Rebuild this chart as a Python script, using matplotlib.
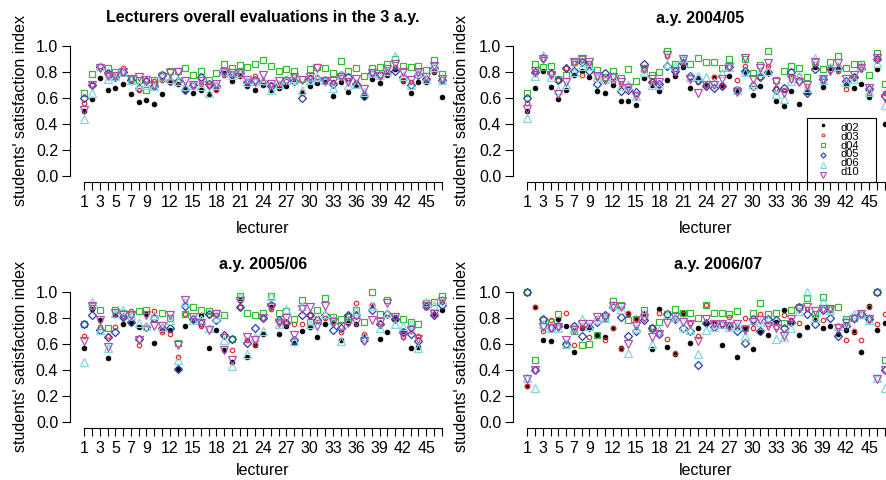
import matplotlib
matplotlib.use('Agg')
import matplotlib.pyplot as plt
from matplotlib.patches import Rectangle
import numpy as np

plt.rcParams['font.family'] = ['Liberation Sans', 'DejaVu Sans']

lecturers = np.arange(1, 48)
series = ['d02', 'd03', 'd04', 'd05', 'd06', 'd10']
shown_ticks = [1, 3, 5, 7, 9, 12, 15, 18, 21, 24, 27, 30, 33, 36, 39, 42, 45]

# overall 3 a.y.
tot_d02 = [0.50, 0.59, 0.755, 0.66, 0.675, 0.705, 0.63, 0.57, 0.585, 0.555, 0.635, 0.72, 0.71, 0.66, 0.64, 0.66,
           0.63, 0.67, 0.79, 0.73, 0.77, 0.69, 0.66, 0.70, 0.66, 0.68, 0.69, 0.75, 0.64, 0.69, 0.715, 0.72,
           0.615, 0.72, 0.65, 0.70, 0.61, 0.745, 0.715, 0.775, 0.82, 0.735, 0.64, 0.72, 0.725, 0.80, 0.61]
tot_d03 = [0.56, 0.70, 0.85, 0.78, 0.78, 0.83, 0.75, 0.66, 0.74, 0.73, 0.74, 0.72, 0.73, 0.67, 0.70, 0.71,
           0.69, 0.66, 0.78, 0.78, 0.78, 0.72, 0.77, 0.72, 0.70, 0.71, 0.73, 0.77, 0.65, 0.76, 0.76, 0.74,
           0.72, 0.76, 0.74, 0.72, 0.63, 0.79, 0.78, 0.80, 0.84, 0.74, 0.72, 0.79, 0.75, 0.81, 0.75]
tot_d04 = [0.64, 0.785, 0.84, 0.83, 0.80, 0.80, 0.75, 0.74, 0.665, 0.74, 0.78, 0.81, 0.81, 0.83, 0.78, 0.81,
           0.74, 0.79, 0.865, 0.835, 0.855, 0.84, 0.865, 0.895, 0.85, 0.81, 0.82, 0.81, 0.75, 0.82, 0.84, 0.83,
           0.795, 0.885, 0.81, 0.83, 0.77, 0.83, 0.84, 0.86, 0.90, 0.85, 0.84, 0.845, 0.815, 0.89, 0.785]
tot_d05 = [0.60, 0.70, 0.84, 0.79, 0.76, 0.80, 0.74, 0.68, 0.73, 0.69, 0.78, 0.73, 0.73, 0.66, 0.70, 0.76,
           0.71, 0.69, 0.80, 0.78, 0.79, 0.72, 0.74, 0.72, 0.69, 0.70, 0.74, 0.73, 0.60, 0.75, 0.75, 0.74,
           0.71, 0.78, 0.76, 0.71, 0.62, 0.79, 0.78, 0.80, 0.81, 0.76, 0.70, 0.78, 0.75, 0.83, 0.74]
tot_d06 = [0.44, 0.64, 0.85, 0.75, 0.77, 0.80, 0.74, 0.70, 0.70, 0.69, 0.77, 0.75, 0.73, 0.69, 0.70, 0.69,
           0.64, 0.70, 0.81, 0.78, 0.79, 0.72, 0.73, 0.74, 0.66, 0.71, 0.75, 0.74, 0.66, 0.74, 0.76, 0.74,
           0.68, 0.78, 0.70, 0.71, 0.65, 0.79, 0.78, 0.81, 0.92, 0.77, 0.70, 0.79, 0.75, 0.84, 0.74]
tot_d10 = [0.51, 0.70, 0.83, 0.77, 0.77, 0.80, 0.75, 0.76, 0.74, 0.70, 0.76, 0.79, 0.80, 0.73, 0.70, 0.73,
           0.70, 0.71, 0.80, 0.79, 0.79, 0.74, 0.72, 0.78, 0.71, 0.73, 0.73, 0.76, 0.74, 0.76, 0.83, 0.73,
           0.73, 0.76, 0.72, 0.75, 0.67, 0.79, 0.77, 0.82, 0.86, 0.80, 0.74, 0.80, 0.76, 0.85, 0.75]

# a.y. 2004/05
y0405_d02 = [0.50, 0.68, 0.81, 0.685, 0.595, 0.66, 0.78, 0.81, 0.765, 0.655, 0.64, 0.70, 0.58, 0.575, 0.545, 0.755,
             0.70, 0.655, 0.74, 0.77, 0.84, 0.68, 0.755, 0.70, 0.765, 0.70, 0.77, 0.66, 0.81, 0.625, 0.695, 0.80,
             0.58, 0.54, 0.655, 0.555, 0.65, 0.84, 0.685, 0.82, 0.82, 0.70, 0.68, 0.705, 0.605, 0.825, 0.40]
y0405_d03 = [0.56, 0.79, 0.90, 0.79, 0.74, 0.83, 0.87, 0.775, 0.87, 0.76, 0.75, 0.73, 0.71, 0.70, 0.63, 0.82,
             0.73, 0.70, 0.92, 0.79, 0.88, 0.76, 0.72, 0.70, 0.76, 0.69, 0.84, 0.74, 0.85, 0.71, 0.76, 0.85,
             0.68, 0.66, 0.77, 0.77, 0.69, 0.86, 0.73, 0.82, 0.81, 0.67, 0.76, 0.84, 0.64, 0.89, 0.64]
y0405_d04 = [0.64, 0.86, 0.84, 0.85, 0.75, 0.775, 0.88, 0.90, 0.86, 0.815, 0.76, 0.81, 0.755, 0.82, 0.73, 0.82,
             0.775, 0.80, 0.965, 0.86, 0.895, 0.865, 0.91, 0.875, 0.88, 0.83, 0.90, 0.66, 0.90, 0.79, 0.855, 0.965,
             0.74, 0.81, 0.845, 0.835, 0.765, 0.875, 0.82, 0.88, 0.925, 0.83, 0.86, 0.865, 0.775, 0.95, 0.71]
y0405_d05 = [0.60, 0.80, 0.91, 0.79, 0.74, 0.83, 0.81, 0.88, 0.81, 0.71, 0.79, 0.76, 0.655, 0.66, 0.65, 0.865,
             0.72, 0.71, 0.85, 0.81, 0.87, 0.77, 0.74, 0.69, 0.68, 0.69, 0.84, 0.66, 0.81, 0.69, 0.76, 0.80,
             0.66, 0.68, 0.80, 0.73, 0.64, 0.82, 0.75, 0.82, 0.83, 0.73, 0.76, 0.83, 0.67, 0.90, 0.62]
y0405_d06 = [0.45, 0.77, 0.93, 0.76, 0.66, 0.70, 0.80, 0.85, 0.85, 0.76, 0.75, 0.77, 0.69, 0.70, 0.62, 0.80,
             0.70, 0.70, 0.86, 0.85, 0.91, 0.76, 0.77, 0.76, 0.72, 0.79, 0.84, 0.66, 0.80, 0.70, 0.80, 0.81,
             0.63, 0.59, 0.73, 0.77, 0.68, 0.91, 0.74, 0.84, 0.85, 0.72, 0.75, 0.85, 0.65, 0.87, 0.55]
y0405_d10 = [0.52, 0.81, 0.90, 0.78, 0.63, 0.72, 0.88, 0.90, 0.88, 0.77, 0.74, 0.76, 0.72, 0.68, 0.62, 0.82,
             0.75, 0.72, 0.93, 0.81, 0.90, 0.75, 0.64, 0.70, 0.70, 0.75, 0.84, 0.65, 0.91, 0.75, 0.83, 0.87,
             0.72, 0.64, 0.75, 0.72, 0.70, 0.88, 0.75, 0.81, 0.87, 0.75, 0.78, 0.83, 0.68, 0.91, 0.60]

# a.y. 2005/06
y0506_d02 = [0.57, 0.87, 0.78, 0.49, 0.82, 0.75, 0.76, 0.73, 0.83, 0.61, 0.71, 0.71, 0.41, 0.74, 0.78, 0.82,
             0.57, 0.71, 0.55, 0.46, 0.94, 0.50, 0.59, 0.68, 0.88, 0.68, 0.74, 0.61, 0.70, 0.73, 0.65, 0.75,
             0.76, 0.63, 0.76, 0.75, 0.67, 0.90, 0.64, 0.69, 0.79, 0.70, 0.57, 0.58, 0.88, 0.82, 0.86]
y0506_d03 = [0.66, 0.88, 0.73, 0.66, 0.73, 0.81, 0.85, 0.59, 0.72, 0.85, 0.69, 0.68, 0.50, 0.83, 0.78, 0.74,
             0.82, 0.82, 0.66, 0.55, 0.88, 0.63, 0.60, 0.80, 0.87, 0.77, 0.77, 0.75, 0.75, 0.82, 0.80, 0.80,
             0.79, 0.69, 0.82, 0.91, 0.68, 0.90, 0.76, 0.84, 0.81, 0.65, 0.72, 0.66, 0.90, 0.82, 0.92]
y0506_d04 = [0.75, 0.89, 0.86, 0.72, 0.86, 0.84, 0.83, 0.85, 0.86, 0.80, 0.84, 0.80, 0.61, 0.83, 0.88, 0.86,
             0.85, 0.84, 0.82, 0.64, 0.97, 0.84, 0.82, 0.84, 0.97, 0.84, 0.85, 0.79, 0.94, 0.77, 0.86, 0.95,
             0.81, 0.79, 0.81, 0.86, 0.77, 1.00, 0.83, 0.94, 0.80, 0.79, 0.77, 0.75, 0.91, 0.92, 0.97]
y0506_d05 = [0.75, 0.82, 0.71, 0.65, 0.69, 0.81, 0.77, 0.64, 0.73, 0.80, 0.72, 0.72, 0.41, 0.89, 0.79, 0.76,
             0.83, 0.78, 0.67, 0.64, 0.88, 0.61, 0.72, 0.80, 0.90, 0.78, 0.76, 0.63, 0.82, 0.82, 0.78, 0.82,
             0.71, 0.72, 0.82, 0.82, 0.63, 0.86, 0.75, 0.83, 0.79, 0.69, 0.68, 0.62, 0.89, 0.82, 0.90]
y0506_d06 = [0.46, 0.92, 0.71, 0.57, 0.84, 0.86, 0.82, 0.76, 0.74, 0.82, 0.73, 0.78, 0.48, 0.92, 0.78, 0.79,
             0.72, 0.80, 0.63, 0.43, 0.96, 0.52, 0.65, 0.70, 0.97, 0.75, 0.87, 0.62, 0.89, 0.75, 0.78, 0.83,
             0.78, 0.62, 0.79, 0.85, 0.66, 0.89, 0.72, 0.84, 0.75, 0.74, 0.75, 0.57, 0.92, 0.90, 0.94]
y0506_d10 = [0.62, 0.89, 0.78, 0.58, 0.84, 0.82, 0.82, 0.63, 0.82, 0.74, 0.74, 0.82, 0.59, 0.94, 0.81, 0.76,
             0.71, 0.83, 0.55, 0.48, 0.93, 0.65, 0.63, 0.80, 0.88, 0.76, 0.80, 0.67, 0.87, 0.88, 0.74, 0.89,
             0.77, 0.73, 0.76, 0.77, 0.62, 0.78, 0.77, 0.91, 0.81, 0.66, 0.71, 0.64, 0.89, 0.83, 0.93]

# a.y. 2006/07
y0607_d02 = [0.28, 0.88, 0.63, 0.62, 0.79, 0.74, 0.54, 0.72, 0.73, 0.67, 0.65, 0.72, 0.57, 0.83, 0.80, 0.84,
             0.56, 0.87, 0.58, 0.52, 0.84, 0.61, 0.72, 0.76, 0.76, 0.59, 0.74, 0.50, 0.72, 0.56, 0.69, 0.67,
             0.77, 0.86, 0.76, 0.67, 0.73, 0.81, 0.72, 0.74, 0.68, 0.71, 0.69, 0.54, 0.89, 0.71, 0.76]
y0607_d03 = [0.28, 0.88, 0.70, 0.78, 0.73, 0.84, 0.59, 0.73, 0.65, 0.80, 0.63, 0.72, 0.56, 0.84, 0.79, 0.80,
             0.73, 0.84, 0.64, 0.53, 0.83, 0.76, 0.66, 0.90, 0.76, 0.75, 0.81, 0.72, 0.80, 0.72, 0.83, 0.75,
             0.73, 0.82, 0.78, 0.76, 0.87, 0.79, 0.78, 0.87, 0.74, 0.63, 0.70, 0.63, 0.88, 0.75, 0.83]
y0607_d04 = [1.00, 0.48, 0.78, 0.77, 0.83, 0.59, 0.70, 0.59, 0.60, 0.67, 0.80, 0.93, 0.90, 0.78, 0.79, 0.86,
             0.72, 0.77, 0.83, 0.87, 0.84, 0.84, 0.80, 0.90, 0.84, 0.84, 0.83, 0.85, 0.72, 0.84, 0.91, 0.83,
             0.84, 0.76, 0.86, 0.88, 0.95, 0.83, 0.96, 0.87, 0.88, 0.79, 0.80, 0.82, 0.80, 1.00, 0.48]
y0607_d05 = [1.00, 0.40, 0.79, 0.72, 0.74, 0.60, 0.74, 0.66, 0.73, 0.77, 0.82, 0.88, 0.81, 0.66, 0.70, 0.78,
             0.72, 0.68, 0.83, 0.79, 0.72, 0.70, 0.44, 0.76, 0.73, 0.75, 0.74, 0.70, 0.61, 0.79, 0.70, 0.79,
             0.78, 0.72, 0.77, 0.88, 0.83, 0.75, 0.86, 0.80, 0.66, 0.74, 0.80, 0.83, 0.79, 1.00, 0.40]
y0607_d06 = [0.34, 0.26, 0.75, 0.72, 0.72, 0.60, 0.72, 0.79, 0.74, 0.79, 0.80, 0.90, 0.87, 0.53, 0.72, 0.84,
             0.60, 0.71, 0.82, 0.81, 0.73, 0.71, 0.52, 0.71, 0.73, 0.75, 0.73, 0.74, 0.66, 0.78, 0.77, 0.78,
             0.64, 0.65, 0.72, 0.85, 1.00, 0.80, 0.92, 0.86, 0.74, 0.78, 0.83, 0.83, 0.78, 0.34, 0.26]
y0607_d10 = [0.33, 0.40, 0.73, 0.72, 0.73, 0.63, 0.71, 0.75, 0.75, 0.81, 0.81, 0.89, 0.88, 0.60, 0.74, 0.80,
             0.65, 0.68, 0.76, 0.81, 0.77, 0.75, 0.62, 0.79, 0.75, 0.75, 0.74, 0.75, 0.71, 0.77, 0.78, 0.74,
             0.72, 0.66, 0.79, 0.87, 0.88, 0.85, 0.87, 0.87, 0.72, 0.76, 0.79, 0.83, 0.79, 0.33, 0.40]

titles = ['Lecturers overall evaluations in the 3 a.y.', 'a.y. 2004/05', 'a.y. 2005/06', 'a.y. 2006/07']
panel_data = [
    [tot_d02, tot_d03, tot_d04, tot_d05, tot_d06, tot_d10],
    [y0405_d02, y0405_d03, y0405_d04, y0405_d05, y0405_d06, y0405_d10],
    [y0506_d02, y0506_d03, y0506_d04, y0506_d05, y0506_d06, y0506_d10],
    [y0607_d02, y0607_d03, y0607_d04, y0607_d05, y0607_d06, y0607_d10],
]

# marker styles (R pch 20, 1, 0, 5, 2, 6)
styles = [
    dict(marker='o', ms=3.4, mfc='black', mec='black', mew=0.6),
    dict(marker='o', ms=3.2, mfc='none', mec='#e8302a', mew=0.9),
    dict(marker='s', ms=4.6, mfc='none', mec='#33bb33', mew=0.9),
    dict(marker='D', ms=4.3, mfc='none', mec='#2a3fa8', mew=0.9),
    dict(marker='^', ms=6.3, mfc='none', mec='#80d8d8', mew=0.9),
    dict(marker='v', ms=6.3, mfc='none', mec='#b44ab4', mew=0.9),
]

W, H = 886, 480
fig = plt.figure(figsize=(W / 100, H / 100), dpi=100)

# pixel boxes: left, top, right, bottom
boxes = [(70, 40.8, 456, 181.5), (513, 40.8, 899, 181.5),
         (70, 286.5, 456, 427.5), (513, 286.5, 899, 427.5)]
title_pos = [(263, 22), (700, 23), (263, 269), (718, 269)]
xlab_pos = [(263, 233), (706, 233), (263, 475), (706, 475)]
ylab_pos = [(20.5, 110), (461, 111), (20.5, 357), (461, 357)]

for k in range(4):
    l, t, r, b = boxes[k]
    ax = fig.add_axes([l / W, 1 - b / H, (r - l) / W, (b - t) / H])
    for vals, st in zip(panel_data[k], styles):
        ax.plot(lecturers, vals, linestyle='none', **st)
    ax.set_xlim(-0.84, 48.84)
    ax.set_ylim(-0.04, 1.04)
    ax.set_xticks(lecturers)
    ax.set_xticklabels([str(i) if i in shown_ticks else '' for i in lecturers])
    ax.set_yticks([0, 0.2, 0.4, 0.6, 0.8, 1.0])
    ax.set_yticklabels(['0.0', '0.2', '0.4', '0.6', '0.8', '1.0'])
    for s in ['top', 'right']:
        ax.spines[s].set_visible(False)
    ax.spines['left'].set_bounds(0, 1)
    ax.spines['bottom'].set_bounds(1, 47)
    ax.spines['left'].set_linewidth(0.8)
    ax.spines['bottom'].set_linewidth(0.8)
    ax.tick_params(direction='out', length=5.5, width=0.8, labelsize=11.5, colors='black')
    ax.tick_params(axis='y', pad=3)
    ax.tick_params(axis='x', pad=4.5)
    ax.patch.set_visible(False)

    fig.text(title_pos[k][0] / W, 1 - title_pos[k][1] / H, titles[k], ha='center', va='baseline',
             fontsize=11.5, fontweight='bold')
    fig.text(xlab_pos[k][0] / W, 1 - xlab_pos[k][1] / H, 'lecturer', ha='center', va='baseline',
             fontsize=11.5)
    fig.text(ylab_pos[k][0] / W, 1 - ylab_pos[k][1] / H, "students' satisfaction index", ha='center',
             va='center', rotation=90, fontsize=11.5)

    if k == 1:
        # legend box drawn by hand
        fig.patches.append(Rectangle((806.7 / W, 1 - 181.7 / H), (876 - 806.7) / W, (181.7 - 117.5) / H,
                                     transform=fig.transFigure, facecolor='white', edgecolor='black',
                                     linewidth=0.8, zorder=5))
        for j, st in enumerate(styles):
            yy = 1 - (125 + 10 * j) / H
            small = dict(st)
            small['ms'] = st['ms'] * 0.6
            small['mew'] = st['mew'] * 0.9
            fig.add_artist(plt.Line2D([822.7 / W], [yy], transform=fig.transFigure, linestyle='none',
                                      zorder=6, **small))
        fig.text(840.5 / W, 1 - 150 / H, '\n'.join(series), ha='left', va='center', fontsize=8.0,
                 linespacing=0.83, zorder=6)

fig.savefig('out.png', dpi=100)
